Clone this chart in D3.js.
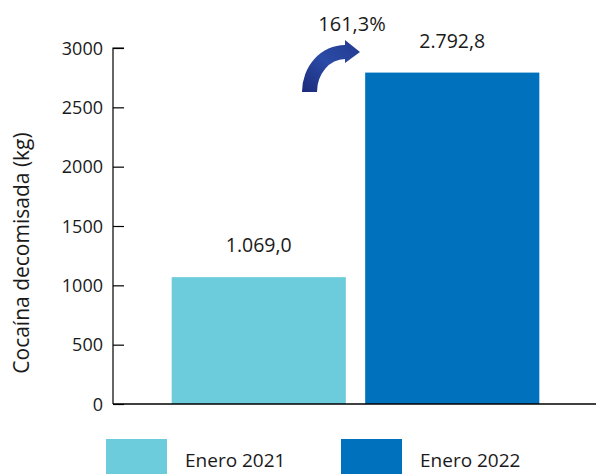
<!DOCTYPE html>
<html><head><meta charset="utf-8">
<script src="https://cdn.jsdelivr.net/npm/d3@7"></script>
<style>body{margin:0;background:#fff;} svg{display:block;font-family:"Open Sans",sans-serif;}</style>
</head><body>
<svg id="c" width="596" height="474"></svg>
<script>
const categories = ["Enero 2021", "Enero 2022"];
const values = [1069.0, 2792.8];
const valueLabels = ["1.069,0", "2.792,8"];
const colors = ["#6DCCDB", "#0071BC"];
const yTicks = [0, 500, 1000, 1500, 2000, 2500, 3000];
const changeLabel = "161,3%";
const yTitle = "Cocaína decomisada (kg)";

const svg = d3.select("#c");
const x0 = 113, x1 = 596, yTop = 48, yBot = 404;
const y = d3.scaleLinear().domain([0, 3000]).range([yBot, yTop]);
const x = d3.scaleBand().domain(categories).range([162, 549]).paddingInner(0.1).paddingOuter(0.05);

// bars
svg.selectAll("rect.bar").data(categories).join("rect")
  .attr("x", d => x(d)).attr("width", x.bandwidth())
  .attr("y", (d,i) => y(values[i])).attr("height", (d,i) => y(0) - y(values[i]))
  .attr("fill", (d,i) => colors[i]);

// y axis
const yAxis = d3.axisRight(y).tickValues(yTicks).tickSize(11).tickFormat("");
const gy = svg.append("g").attr("transform", `translate(${x0},0)`).call(yAxis);
gy.select(".domain").attr("d", `M11,${yTop}H0V${yBot}`).attr("stroke", "#000").attr("stroke-width", 1.2);
gy.selectAll(".tick line").attr("stroke", "#000").attr("stroke-width", 1.2);
svg.append("g").selectAll("text").data(yTicks).join("text")
  .attr("x", 103).attr("y", d => y(d) + 6.5).attr("text-anchor", "end")
  .attr("font-size", 18).attr("fill", "#1a1a1a").text(d => d);

// x axis baseline
svg.append("line").attr("x1", x0).attr("x2", x1).attr("y1", y(0)).attr("y2", y(0))
  .attr("stroke", "#000").attr("stroke-width", 1.5);

// y title
svg.append("text").attr("transform", `translate(29,253) rotate(-90)`)
  .attr("text-anchor", "middle").attr("font-size", 21).attr("fill", "#1a1a1a").text(yTitle);

// value labels
svg.selectAll("text.val").data(categories).join("text")
  .attr("x", d => x(d) + x.bandwidth()/2).attr("y", (d,i) => y(values[i]) - 25)
  .attr("text-anchor", "middle").attr("font-size", 19.5).attr("fill", "#1a1a1a")
  .text((d,i) => valueLabels[i]);

// change label
svg.append("text").attr("x", 352).attr("y", 31).attr("text-anchor", "middle")
  .attr("font-size", 20).attr("fill", "#1a1a1a").text(changeLabel);

// curved arrow
const defs = svg.append("defs");
const grad = defs.append("linearGradient").attr("id", "ag").attr("x1", "0").attr("y1", "1").attr("x2", "1").attr("y2", "0");
grad.append("stop").attr("offset", "0").attr("stop-color", "#1B2A7A");
grad.append("stop").attr("offset", "0.5").attr("stop-color", "#2B4BA6");
grad.append("stop").attr("offset", "1").attr("stop-color", "#22398F");
const cx = 345, cy = 92;
const arrowPath = `M${cx-43},${cy} A43,47 0 0 1 ${cx},${cy-47} L${cx},${cy-52} L${cx+15},${cy-40} L${cx},${cy-29} L${cx},${cy-33} A28,33 0 0 0 ${cx-28},${cy} Z`;
svg.append("path").attr("d", arrowPath).attr("fill", "url(#ag)");

// legend
const lg = svg.append("g");
const lx = [106, 341];
categories.forEach((c, i) => {
  lg.append("rect").attr("x", lx[i]).attr("y", 439).attr("width", 61).attr("height", 40).attr("fill", colors[i]);
  lg.append("text").attr("x", lx[i] + 79).attr("y", 467).attr("font-size", 19).attr("fill", "#1a1a1a").text(c);
});
</script>
</body></html>
